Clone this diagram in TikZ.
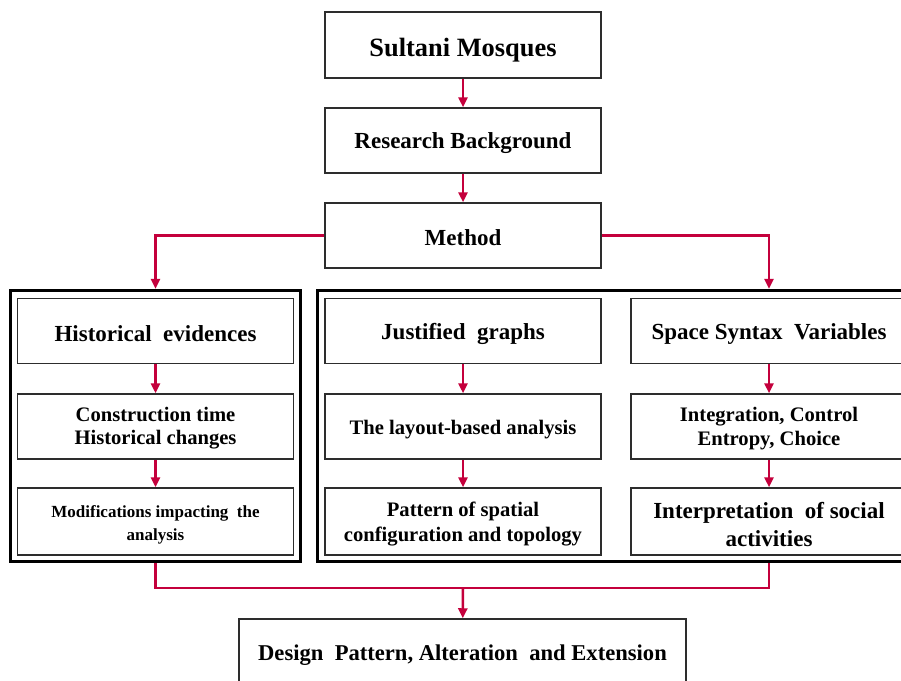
\documentclass[tikz,border=0pt]{standalone}
\usepackage{fontspec}
\setmainfont{Liberation Serif}
\usetikzlibrary{arrows.meta}
\definecolor{lnred}{RGB}{196,0,60}
\definecolor{bx}{RGB}{45,45,45}
\begin{document}
\begin{tikzpicture}[x=1pt,y=-1pt,
 box/.style={draw=bx,line width=1.5pt,minimum width=276pt,minimum height=65pt,inner sep=0pt},
 txt/.style={inner sep=0pt,align=center,font=\bfseries\fontsize{23}{28}\selectfont},
 stxt/.style={txt,font=\bfseries\fontsize{20.6}{24}\selectfont},
 frame/.style={draw=black,line width=2.2pt,inner sep=0pt},
 link/.style={draw=lnred,line width=2.5pt,-{Triangle[length=10pt,width=9pt]}},
 plain/.style={draw=lnred,line width=2.5pt}
]
\path[use as bounding box] (0,0) rectangle (901,680);
\clip (0,0) rectangle (901,680);
\fill[white] (0,0) rectangle (901,680);

% top chain
\node[box,minimum height=66pt] (sm) at (463,45) {};
\node[txt,font=\bfseries\fontsize{26.4}{30}\selectfont] (smt) at ([yshift=-5pt]sm.center) {Sultani Mosques};
\node[box] (rb) at (463,140.5) {};
\node[txt] (rbt) at ([yshift=-3pt]rb.center) {Research Background};
\node[box] (me) at (463,235.5) {};
\node[txt] (met) at ([yshift=-2pt]me.center) {Method};

% frames
\node[frame,minimum width=291pt,minimum height=272pt] (lf) at (155.5,426) {};
\node[frame,minimum width=588pt,minimum height=272pt] (rf) at (611,426) {};
\draw[line width=0.9pt] ([shift={(3,3)}]lf.north west) rectangle ([shift={(-3,-3)}]lf.south east);
\draw[line width=0.9pt] ([shift={(3,3)}]rf.north west) rectangle ([shift={(-3,-3)}]rf.south east);

% left column
\node[box] (he) at (155.5,331) {};
\node[txt] (het) at ([yshift=-3pt]he.center) {Historical\ \ evidences};
\node[box] (ct) at (155.5,426.5) {};
\node[stxt] (ctt) at ([yshift=-2pt]ct.center) {Construction time\\[-1pt]Historical changes};
\node[box,minimum height=67pt] (mo) at (155.5,521.5) {};
\node[txt,font=\bfseries\fontsize{17}{23}\selectfont] (mot) at ([yshift=-3pt]mo.center) {Modifications impacting\ \ the\\analysis};

% middle column
\node[box] (jg) at (463,331) {};
\node[txt] (jgt) at ([yshift=-3pt]jg.center) {Justified\ \ graphs};
\node[box] (la) at (463,426.5) {};
\node[stxt] (lat) at ([yshift=-3pt]la.center) {The layout-based analysis};
\node[box,minimum height=67pt] (pa) at (463,521.5) {};
\node[txt,font=\bfseries\fontsize{20.6}{25}\selectfont] (pat) at ([yshift=-3pt]pa.center) {Pattern of spatial\\configuration and topology};

% right column
\node[box] (ss) at (769,331) {};
\node[txt] (sst) at ([yshift=-3pt]ss.center) {Space Syntax\ \ Variables};
\node[box] (ic) at (769,426.5) {};
\node[stxt] (ict) at ([yshift=-2pt]ic.center) {Integration, Control\\Entropy, Choice};
\node[box,minimum height=67pt] (is) at (769,521.5) {};
\node[txt] (ist) at ([yshift=-3pt]is.center) {Interpretation\ \ of social\\activities};

% bottom
\node[box,minimum width=447pt,minimum height=68pt] (dp) at (462.5,653) {};
\node[txt,font=\bfseries\fontsize{22.6}{28}\selectfont] (dpt) at ([yshift=-2pt]dp.center) {Design\ \ Pattern, Alteration\ \ and Extension};

% connectors
\draw[link] (sm) -- (rb);
\draw[link] (rb) -- (me);
\draw[link] (me.west) -| (lf.north);
\draw[link] (me.east) -| (ss.north |- rf.north);
\draw[link] (he) -- (ct);
\draw[link] (ct) -- (mo);
\draw[link] (jg) -- (la);
\draw[link] (la) -- (pa);
\draw[link] (ss) -- (ic);
\draw[link] (ic) -- (is);
\coordinate (jn) at (463,588);
\draw[plain] (lf.south) |- (jn) -| (ss.south |- rf.south);
\draw[link] (jn) -- (dp);
\end{tikzpicture}
\end{document}
